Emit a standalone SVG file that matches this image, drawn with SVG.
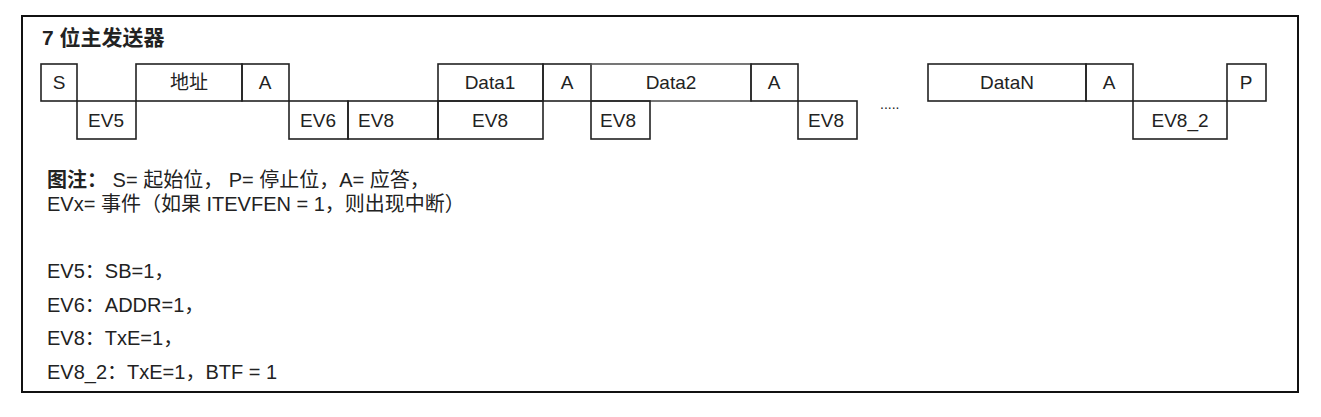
<svg xmlns="http://www.w3.org/2000/svg" width="1321" height="417" viewBox="0 0 1321 417">
<style>
rect.b{fill:none;stroke:#222;stroke-width:1.6}
text{font-family:"Liberation Sans","Noto Sans CJK SC",sans-serif;fill:#222}
.c{font-size:19px;text-anchor:middle}
.l{font-size:20px}
</style>
<rect x="0" y="0" width="1321" height="417" fill="#fff"/>
<rect x="22" y="16" width="1276" height="376" fill="none" stroke="#111" stroke-width="2"/>
<text x="42" y="45" font-size="21" font-weight="bold">7 位主发送器</text>
<g id="top">
<g id="s"><rect class="b" x="41" y="64" width="36" height="37"/><text class="c" x="59" y="89">S</text></g>
<g id="addr"><rect class="b" x="136" y="64" width="106" height="37"/><text class="c" x="189" y="89" fill="#666">地址</text></g>
<g id="a1"><rect class="b" x="242" y="64" width="47" height="37"/><text class="c" x="265" y="89">A</text></g>
<g id="d1"><rect class="b" x="438" y="64" width="105" height="37"/><text class="c" x="490" y="89">Data1</text></g>
<g id="a2"><rect class="b" x="543" y="64" width="48" height="37"/><text class="c" x="567" y="89">A</text></g>
<g id="d2"><rect class="b" x="591" y="64" width="160" height="37" style="stroke:#555"/><text class="c" x="671" y="89">Data2</text></g>
<g id="a3"><rect class="b" x="751" y="64" width="47" height="37"/><text class="c" x="774" y="89">A</text></g>
<g id="dn"><rect class="b" x="928" y="64" width="158" height="37"/><text class="c" x="1007" y="89">DataN</text></g>
<g id="a4"><rect class="b" x="1086" y="64" width="47" height="37"/><text class="c" x="1109" y="89">A</text></g>
<g id="p"><rect class="b" x="1227" y="64" width="39" height="37"/><text class="c" x="1246" y="89">P</text></g>
</g>
<g id="bottom">
<g id="ev5"><rect class="b" x="77" y="101" width="59" height="38"/><text class="c" x="106" y="127">EV5</text></g>
<g id="ev6"><rect class="b" x="289" y="101" width="59" height="38"/><text class="c" x="318" y="127">EV6</text></g>
<g id="ev8a"><rect class="b" x="348" y="101" width="90" height="38"/><text class="c" x="376" y="127">EV8</text></g>
<g id="ev8b"><rect class="b" x="438" y="101" width="105" height="38"/><text class="c" x="490" y="127">EV8</text></g>
<g id="ev8c"><rect class="b" x="591" y="101" width="59" height="38"/><text class="c" x="618" y="127">EV8</text></g>
<g id="ev8d"><rect class="b" x="798" y="101" width="59" height="38"/><text class="c" x="826" y="127">EV8</text></g>
<g id="ev82"><rect class="b" x="1133" y="101" width="94" height="38"/><text class="c" x="1180" y="127">EV8_2</text></g>
</g>
<g id="connectors"></g>
<text x="880" y="109" font-size="14" fill="#555">.....</text>
<text class="l" x="47" y="187"><tspan font-weight="bold">图注：</tspan> S= 起始位， P= 停止位，A= 应答，</text>
<text class="l" x="47" y="211">EVx= 事件（如果 ITEVFEN = 1，则出现中断）</text>
<text class="l" x="47" y="278">EV5：SB=1，</text>
<text class="l" x="47" y="312">EV6：ADDR=1，</text>
<text class="l" x="47" y="345">EV8：TxE=1，</text>
<text class="l" x="47" y="379">EV8_2：TxE=1，BTF = 1</text>
</svg>
